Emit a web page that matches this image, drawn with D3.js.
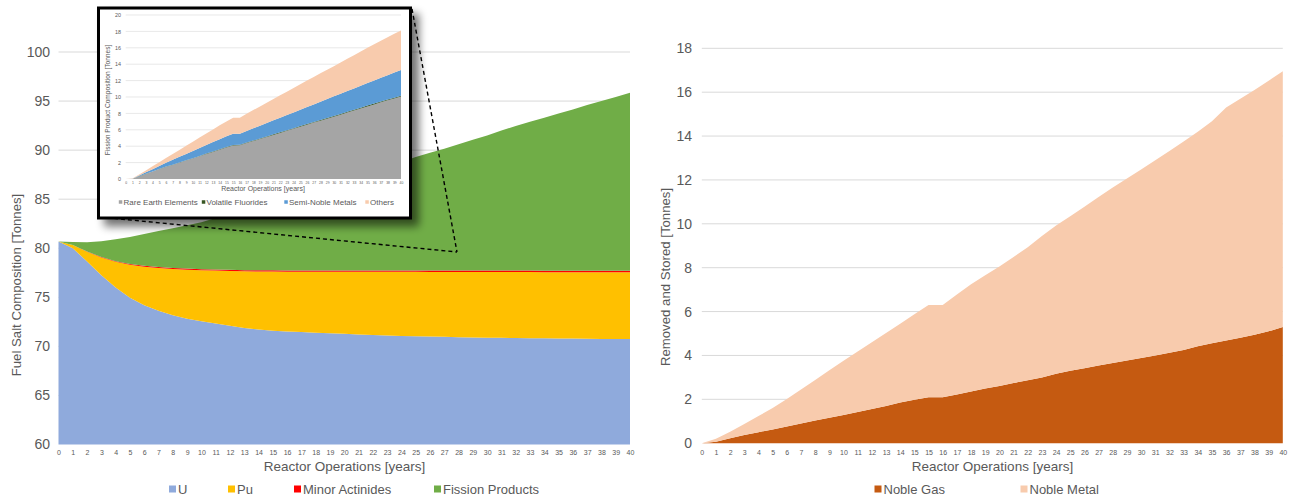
<!DOCTYPE html>
<html>
<head>
<meta charset="utf-8">
<script src="https://cdn.jsdelivr.net/npm/d3@7"></script>
<style>
  body { margin: 0; background: #fff; }
  svg { display: block; }
  text { font-family: "Liberation Sans", Arial, Helvetica, sans-serif; }
</style>
</head>
<body>
<svg id="chart" width="1289" height="498"></svg>
<script>
// ---------- Fuel salt composition (left panel) ----------
const fuelYears = ["0","1","2","3","4","5","6","7","8","9","10","11","12","13","14","15","16","17","18","19","20",
  "21","22","23","24","25","26","27","28","29","30","31","32","33","34","35","36","37","38","39","40"];
const uranium = [80.70,80.00,78.65,77.25,76.00,74.95,74.20,73.62,73.18,72.82,72.55,72.32,72.10,71.88,71.72,71.60,
  71.52,71.46,71.40,71.34,71.28,71.22,71.17,71.12,71.07,71.03,71.00,70.97,70.94,70.91,70.89,70.87,70.85,70.83,70.82,
  70.80,70.79,70.77,70.76,70.75,70.74];
const plutonium = [0.00,0.32,1.00,1.80,2.62,3.37,3.92,4.36,4.70,5.00,5.21,5.40,5.58,5.77,5.91,6.02,6.08,6.14,6.20,
  6.26,6.32,6.38,6.43,6.48,6.53,6.57,6.59,6.62,6.64,6.67,6.69,6.70,6.72,6.74,6.74,6.76,6.77,6.78,6.79,6.80,6.81];
const minorActinides = [0.00,0.02,0.03,0.05,0.06,0.08,0.09,0.10,0.10,0.11,0.11,0.12,0.12,0.12,0.13,0.13,0.13,0.13,
  0.13,0.14,0.14,0.14,0.14,0.14,0.14,0.14,0.14,0.14,0.15,0.15,0.15,0.15,0.15,0.15,0.15,0.15,0.15,0.15,0.15,0.15,0.15];
const fissionProducts = [0.00,0.30,0.94,1.62,2.24,2.75,3.24,3.67,4.07,4.42,4.78,5.24,5.72,6.18,6.62,7.05,7.47,7.89,
  8.32,8.76,9.21,9.66,10.11,10.56,11.06,11.56,11.99,12.42,12.87,13.32,13.77,14.28,14.73,15.16,15.59,16.01,16.44,
  16.90,17.30,17.72,18.15];
const fuelTicks = [60,65,70,75,80,85,90,95,100];

// ---------- Removed and stored (right panel) and fission product breakdown (inset) ----------
const storedYears = ["0","1","2","3","4","5","6","7","8","9","10","11","12","13","14","15","15","16","17","18","19",
  "20","21","22","23","24","25","26","27","28","29","30","31","32","33","34","35","36","37","38","39","40"];
const nobleGas = [0.00,0.07,0.22,0.37,0.50,0.63,0.76,0.90,1.03,1.16,1.29,1.42,1.56,1.70,1.85,1.98,2.09,2.09,2.22,
  2.36,2.49,2.61,2.74,2.87,3.00,3.17,3.30,3.42,3.54,3.66,3.77,3.88,4.00,4.12,4.25,4.42,4.56,4.68,4.81,4.94,5.10,5.30];
const nobleMetal = [0.00,0.13,0.30,0.51,0.74,0.97,1.26,1.55,1.85,2.16,2.47,2.76,3.04,3.32,3.60,3.90,4.21,4.21,4.56,
  4.89,5.16,5.44,5.75,6.06,6.45,6.75,7.05,7.36,7.68,8.00,8.30,8.60,8.90,9.20,9.50,9.78,10.12,10.62,10.89,11.16,11.42,11.65];
const storedTicks = [0,2,4,6,8,10,12,14,16,18];

const rareEarth = [0,0.02,0.32,0.62,0.90,1.20,1.48,1.72,1.98,2.25,2.50,2.78,3.05,3.30,3.58,3.85,4.10,4.12,4.38,4.62,
  4.88,5.12,5.38,5.62,5.88,6.12,6.38,6.62,6.88,7.10,7.35,7.60,7.85,8.10,8.35,8.60,8.85,9.10,9.35,9.60,9.82,10.05];
const volatileFluorides = [0,0,0.01,0.01,0.02,0.02,0.03,0.03,0.03,0.04,0.04,0.04,0.05,0.05,0.05,0.05,0.06,0.06,0.06,
  0.06,0.07,0.07,0.07,0.07,0.08,0.08,0.08,0.08,0.08,0.09,0.09,0.09,0.09,0.09,0.10,0.10,0.10,0.10,0.10,0.10,0.10,0.10];
const semiNobleMetals = [0,0.01,0.09,0.19,0.28,0.38,0.47,0.60,0.69,0.76,0.86,0.96,1.05,1.15,1.22,1.30,1.36,1.34,1.41,
  1.50,1.55,1.63,1.70,1.79,1.84,1.92,1.99,2.08,2.14,2.23,2.31,2.39,2.46,2.53,2.60,2.68,2.75,2.82,2.90,2.95,3.06,3.15];
const otherProducts = [0,0.02,0.13,0.23,0.35,0.45,0.57,0.70,0.85,1.00,1.15,1.27,1.40,1.55,1.70,1.82,1.96,1.96,2.10,
  2.22,2.35,2.48,2.60,2.72,2.85,2.98,3.10,3.22,3.35,3.48,3.57,3.67,3.80,3.93,4.05,4.17,4.30,4.40,4.50,4.63,4.72,4.80];
const insetTicks = [0,2,4,6,8,10,12,14,16,18,20];

const TEXT = "#595959", GRID = "#d9d9d9";
const svg = d3.select("#chart");

// Drop shadow used by the magnified panel
const defs = svg.append("defs");
const f = defs.append("filter").attr("id", "panelShadow")
  .attr("x", "-10%").attr("y", "-10%").attr("width", "130%").attr("height", "130%");
f.append("feGaussianBlur").attr("in", "SourceAlpha").attr("stdDeviation", 4);
f.append("feOffset").attr("dx", 7).attr("dy", 7).attr("result", "off");
f.append("feComponentTransfer").append("feFuncA").attr("type", "linear").attr("slope", 0.55);
const fm = f.append("feMerge");
fm.append("feMergeNode");
fm.append("feMergeNode").attr("in", "SourceGraphic");

// Generic stacked-area panel
function stackedPanel(g, opt) {
  const n = opt.labels.length;
  const x = d3.scalePoint().domain(d3.range(n)).range([opt.x0, opt.x1]);
  const y = d3.scaleLinear().domain(opt.domain).range([opt.yBottom, opt.yTop]);
  const rows = d3.range(n).map(i => {
    const r = { i };
    opt.series.forEach(s => r[s.key] = s.values[i]);
    return r;
  });
  const layers = d3.stack().keys(opt.series.map(s => s.key))(rows);

  // gridlines
  g.append("g").selectAll("line").data(opt.ticks.filter(t => t !== opt.domain[0])).join("line")
    .attr("x1", opt.x0).attr("x2", opt.x1)
    .attr("y1", d => y(d)).attr("y2", d => y(d))
    .attr("stroke", GRID).attr("stroke-width", opt.gridWidth ?? 1);

  const area = d3.area()
    .x(d => x(d.data.i))
    .y0(d => y(Math.max(opt.domain[0], d[0])))
    .y1(d => y(d[1]));
  g.append("g").selectAll("path").data(layers).join("path")
    .attr("d", area)
    .attr("fill", (d, k) => opt.series[k].color);

  // y ticks
  const ya = g.append("g").attr("transform", `translate(${opt.yLabelX},0)`)
    .call(d3.axisLeft(y).tickValues(opt.ticks).tickSize(0).tickPadding(0));
  ya.select(".domain").remove();
  ya.selectAll("text").attr("fill", TEXT).attr("font-size", opt.yFont)
    .attr("font-family", "'Liberation Sans', Arial, sans-serif");

  // x ticks
  const xa = g.append("g").attr("transform", `translate(0,${opt.yBottom})`)
    .call(d3.axisBottom(x).tickFormat(i => opt.labels[i]).tickSize(0).tickPadding(opt.xPad));
  xa.select(".domain").remove();
  xa.selectAll("text").attr("fill", TEXT).attr("font-size", opt.xFont)
    .attr("font-family", "'Liberation Sans', Arial, sans-serif");
  return { x, y };
}

function legend(g, items, y, size, box, gap) {
  items.forEach(it => {
    g.append("rect").attr("x", it.x - box - gap).attr("y", y - box / 2)
      .attr("width", box).attr("height", box).attr("fill", it.color);
    g.append("text").attr("x", it.x).attr("y", y).attr("dy", "0.35em")
      .attr("font-size", size).attr("fill", TEXT).text(it.label);
  });
}

// ---------- Left panel ----------
const left = svg.append("g");
stackedPanel(left, {
  labels: fuelYears, x0: 58.5, x1: 630, yTop: 52, yBottom: 444.5, domain: [60, 100], ticks: fuelTicks,
  yLabelX: 50, yFont: 14, xFont: 7, xPad: 6,
  series: [
    { key: "u", values: uranium, color: "#8faadc" },
    { key: "pu", values: plutonium, color: "#ffc000" },
    { key: "ma", values: minorActinides, color: "#ff0000" },
    { key: "fp", values: fissionProducts, color: "#70ad47" }
  ]
});
left.append("text").attr("transform", "translate(16,285) rotate(-90)")
  .attr("text-anchor", "middle").attr("dy", "0.35em").attr("font-size", 13.2).attr("fill", TEXT)
  .text("Fuel Salt Composition [Tonnes]");
left.append("text").attr("x", 344.5).attr("y", 466).attr("dy", "0.35em")
  .attr("text-anchor", "middle").attr("font-size", 13.5).attr("fill", TEXT).text("Reactor Operations [years]");
legend(left, [
  { x: 178, label: "U", color: "#8faadc" },
  { x: 237, label: "Pu", color: "#ffc000" },
  { x: 303, label: "Minor Actinides", color: "#ff0000" },
  { x: 443, label: "Fission Products", color: "#70ad47" }
], 489, 13, 7, 2);

// zoom guide lines from the magnified panel to the curve
const guides = svg.append("g").attr("stroke", "#000").attr("stroke-width", 1.4)
  .attr("stroke-dasharray", "4,3").attr("fill", "none");
guides.append("line").attr("x1", 100).attr("y1", 217).attr("x2", 457).attr("y2", 252);
guides.append("line").attr("x1", 412).attr("y1", 9).attr("x2", 457).attr("y2", 252);

// ---------- Inset: fission product composition ----------
const inset = svg.append("g");
inset.append("rect").attr("x", 98.5).attr("y", 8).attr("width", 312).attr("height", 210)
  .attr("fill", "#fff").attr("stroke", "#000").attr("stroke-width", 3).attr("filter", "url(#panelShadow)");
stackedPanel(inset, {
  labels: storedYears, x0: 125.7, x1: 401, yTop: 15, yBottom: 179, domain: [0, 20], ticks: insetTicks,
  yLabelX: 121, yFont: 5.4, xFont: 3.4, xPad: 3, gridWidth: 0.6,
  series: [
    { key: "re", values: rareEarth, color: "#a5a5a5" },
    { key: "vf", values: volatileFluorides, color: "#375623" },
    { key: "snm", values: semiNobleMetals, color: "#5b9bd5" },
    { key: "oth", values: otherProducts, color: "#f8cbad" }
  ]
});
inset.append("text").attr("transform", "translate(108,100) rotate(-90)")
  .attr("text-anchor", "middle").attr("dy", "0.35em").attr("font-size", 6.6).attr("fill", TEXT)
  .text("Fission Product Composition [Tonnes]");
inset.append("text").attr("x", 263).attr("y", 189).attr("dy", "0.35em")
  .attr("text-anchor", "middle").attr("font-size", 7).attr("fill", TEXT).text("Reactor Operations [years]");
legend(inset, [
  { x: 123.5, label: "Rare Earth Elements", color: "#a5a5a5" },
  { x: 206.5, label: "Volatile Fluorides", color: "#375623" },
  { x: 289, label: "Semi-Noble Metals", color: "#5b9bd5" },
  { x: 370, label: "Others", color: "#f8cbad" }
], 202, 8, 3.5, 1.2);

// ---------- Right panel ----------
const right = svg.append("g");
stackedPanel(right, {
  labels: storedYears, x0: 701.8, x1: 1282.8, yTop: 48.3, yBottom: 443.2, domain: [0, 18], ticks: storedTicks,
  yLabelX: 692, yFont: 14, xFont: 7, xPad: 7,
  series: [
    { key: "gas", values: nobleGas, color: "#c55a11" },
    { key: "metal", values: nobleMetal, color: "#f8cbad" }
  ]
});
right.append("text").attr("transform", "translate(665,277) rotate(-90)")
  .attr("text-anchor", "middle").attr("dy", "0.35em").attr("font-size", 13.2).attr("fill", TEXT)
  .text("Removed and Stored [Tonnes]");
right.append("text").attr("x", 992.5).attr("y", 466).attr("dy", "0.35em")
  .attr("text-anchor", "middle").attr("font-size", 13.5).attr("fill", TEXT).text("Reactor Operations [years]");
legend(right, [
  { x: 883.5, label: "Noble Gas", color: "#c55a11" },
  { x: 1029.5, label: "Noble Metal", color: "#f8cbad" }
], 489, 13, 7, 2);
</script>
</body>
</html>
